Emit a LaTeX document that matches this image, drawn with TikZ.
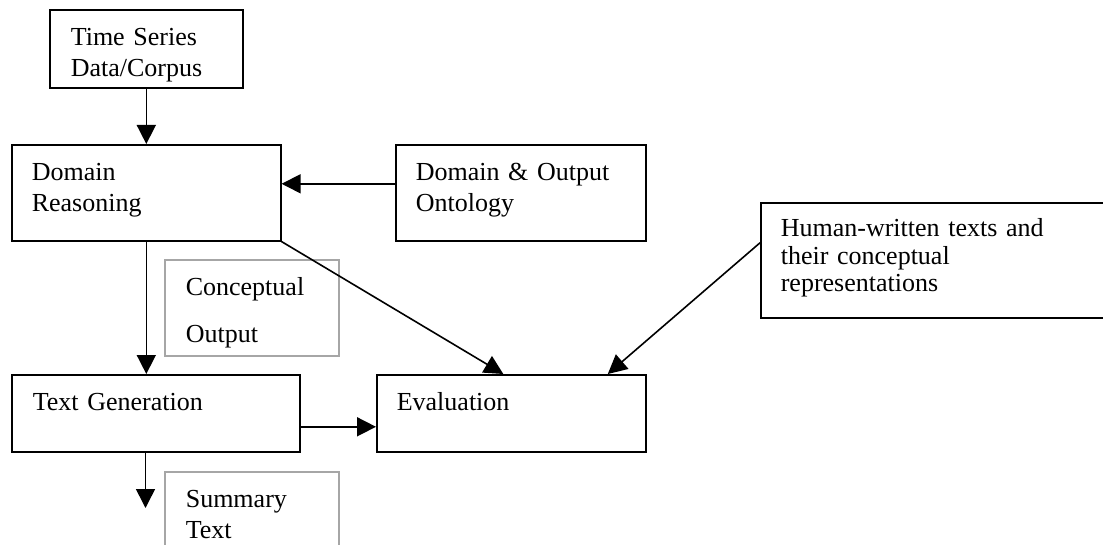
\documentclass[tikz,border=0pt]{standalone}
\usepackage{fontspec}
\setmainfont{Liberation Serif}
\usetikzlibrary{arrows.meta}
\definecolor{boxgray}{RGB}{166,166,166}
\begin{document}
\begin{tikzpicture}[x=0.5pt, y=-0.5pt, >={Triangle[width=9.5pt,length=9.5pt]}, line width=0.8pt]
\tikzstyle{box}=[draw, rectangle, anchor=north west, align=left, inner ysep=0pt, inner xsep=10pt, text height=18pt, font=\fontsize{13pt}{15.5pt}\selectfont]
\tikzstyle{graybox}=[box, draw=boxgray, inner xsep=10.5pt, text width=66pt, text depth=30pt]
\useasboundingbox (0,0) rectangle (1103,545);
\node[box, inner xsep=10.5pt, text width=75.5pt, text depth=21pt](ts) at (49,9) {Time Series\\Data/Corpus};
\node[box, text width=114.5pt, text depth=30pt](dr) at (11,144) {Domain\\Reasoning};
\node[box, text width=105pt, text depth=30pt](onto) at (395,144) {Domain \& Output\\Ontology};
\node[box, text width=155pt, text height=17pt, text depth=40.5pt, font=\fontsize{13pt}{13.75pt}\selectfont](hum) at (760,202) {Human-written texts and\\their conceptual\\representations};
\node[graybox, font=\fontsize{13pt}{23.3pt}\selectfont](cout) at (164,259) {Conceptual\\Output};
\node[box, inner xsep=10.5pt, text width=123pt, text depth=20.5pt](tg) at (11,374) {Text Generation};
\node[box, text width=114.5pt, text depth=20.5pt](ev) at (376,374) {Evaluation};
\node[graybox](st) at (164,471) {Summary\\Text};
\coordinate (stend) at (145.5,508);
\draw[->] (ts.south) -- (dr.north);
\draw[->] ([yshift=4.5pt]onto.west) -- ([yshift=4.5pt]dr.east);
\draw[->] (dr.south) -- (dr.south |- tg.north);
\draw[->] (dr.south east) -- ([xshift=-4pt]ev.north);
\draw[->] ([yshift=8.75pt]hum.west) -- ([xshift=48.25pt]ev.north);
\draw[->] ([yshift=-6.75pt]tg.east) -- ([yshift=-6.75pt]ev.west);
\draw[->] (stend |- tg.south) -- (stend);
\end{tikzpicture}
\end{document}
